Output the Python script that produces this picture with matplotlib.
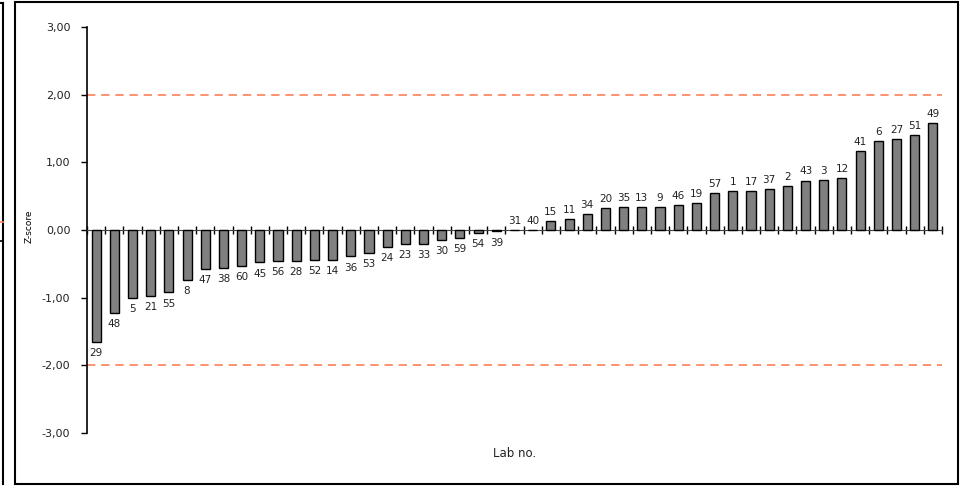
import numpy as np
import matplotlib
matplotlib.use("Agg")
import matplotlib.pyplot as plt
from matplotlib.lines import Line2D
from matplotlib.patches import Rectangle

# lab numbers in plotted (sorted) order and their z-scores
labs = ["29", "48", "5", "21", "55", "8", "47", "38", "60", "45", "56", "28",
        "52", "14", "36", "53", "24", "23", "33", "30", "59", "54", "39", "31",
        "40", "15", "11", "34", "20", "35", "13", "9", "46", "19", "57", "1",
        "17", "37", "2", "43", "3", "12", "41", "6", "27", "51", "49"]
zscores = [-1.65, -1.22, -1.00, -0.97, -0.92, -0.74, -0.58, -0.56, -0.53, -0.48,
           -0.46, -0.46, -0.44, -0.44, -0.39, -0.34, -0.25, -0.21, -0.20, -0.15,
           -0.12, -0.04, -0.02, 0.00, 0.00, 0.13, 0.16, 0.24, 0.32, 0.34,
           0.34, 0.34, 0.37, 0.40, 0.55, 0.57, 0.57, 0.60, 0.65, 0.73,
           0.74, 0.77, 1.17, 1.31, 1.34, 1.40, 1.58]
yticks = [-3, -2, -1, 0, 1, 2, 3]
limits = [-2, 2]

plt.rcParams["font.family"] = ["DejaVu Sans"]

fig = plt.figure(figsize=(9.6, 4.86), dpi=100)
ax = fig.add_axes([87 / 960, 1 - 433 / 486, (942 - 87) / 960, (433 - 27) / 486])

x = np.arange(len(labs))
ax.bar(x, zscores, width=0.5, color="#808080", edgecolor="black", linewidth=1.0, zorder=3)

for xi, v, lab in zip(x, zscores, labs):
    if v >= 0:
        ax.annotate(lab, (xi, v), xytext=(0, 3), textcoords="offset points",
                    ha="center", va="bottom", fontsize=7.5, color="#222222")
    else:
        ax.annotate(lab, (xi, v), xytext=(0, -4.5), textcoords="offset points",
                    ha="center", va="top", fontsize=7.5, color="#222222")

for lim in limits:
    ax.axhline(lim, color="#ff7f5a", linestyle=(0, (5, 3.5)), linewidth=1.2, zorder=2)

ax.set_xlim(-0.5, len(labs) - 0.5)
ax.set_ylim(-3, 3)
ax.set_yticks(yticks)
ax.set_yticklabels([f"{t:.2f}".replace(".", ",") for t in yticks], fontsize=8, color="#222222")
ax.set_xticks(np.arange(len(labs) + 1) - 0.5)
ax.set_xticklabels([])

ax.spines["top"].set_visible(False)
ax.spines["right"].set_visible(False)
ax.spines["bottom"].set_position(("data", 0))
ax.spines["bottom"].set_color("#444444")
ax.spines["left"].set_linewidth(1.2)
ax.tick_params(axis="x", direction="inout", length=6, width=1.0, color="black")
ax.tick_params(axis="y", direction="out", length=4, width=1.0, pad=8)

ax.set_ylabel("Z-score", fontsize=6.5)
ax.yaxis.set_label_coords(-0.062, 0.51)
ax.text(0.5, -0.05, "Lab no.", transform=ax.transAxes, ha="center", va="center",
        fontsize=8.5, color="#222222")

# chart frame
fig.add_artist(Rectangle((15 / 960, 1 - 484 / 486), (958 - 15) / 960, 482 / 486,
                         transform=fig.transFigure, fill=False,
                         edgecolor="black", linewidth=1.5))
# edge of the neighbouring chart on the left
fig.add_artist(Line2D([3 / 960, 3 / 960], [1 - 3 / 486, 1 - 484 / 486],
                      transform=fig.transFigure, color="black", linewidth=1.5))
fig.add_artist(Line2D([0, 3 / 960], [1 - 3 / 486, 1 - 3 / 486],
                      transform=fig.transFigure, color="black", linewidth=1.5))
fig.add_artist(Line2D([0, 3 / 960], [1 - 222 / 486, 1 - 222 / 486],
                      transform=fig.transFigure, color="#ff7f5a", linewidth=1.2))
fig.add_artist(Line2D([0, 3 / 960], [1 - 241 / 486, 1 - 241 / 486],
                      transform=fig.transFigure, color="black", linewidth=1.2))

fig.savefig("out.png", dpi=100)
